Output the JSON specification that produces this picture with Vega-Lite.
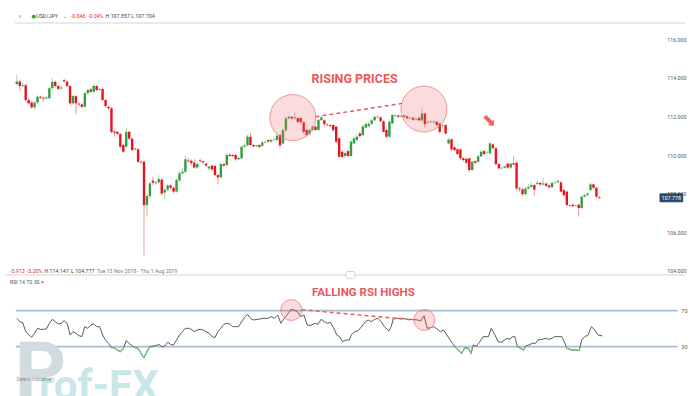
{
  "$schema": "https://vega.github.io/schema/vega-lite/v6.json",
  "width": 700,
  "height": 396,
  "padding": 0,
  "autosize": {"type": "none"},
  "background": "white",
  "config": {"view": {"stroke": null}, "font": "Roboto"},
  "datasets": {
    "candles": [
      {"i":0,"o":113.68,"h":114.15,"l":113.6,"c":113.81},
      {"i":1,"o":113.81,"h":113.9,"l":113.33,"c":113.58},
      {"i":2,"o":113.58,"h":113.75,"l":113.5,"c":113.62},
      {"i":3,"o":113.62,"h":113.7,"l":112.75,"c":112.85},
      {"i":4,"o":112.85,"h":112.95,"l":112.6,"c":112.68},
      {"i":5,"o":112.72,"h":112.8,"l":112.4,"c":112.47},
      {"i":6,"o":112.47,"h":112.8,"l":112.35,"c":112.72},
      {"i":7,"o":112.72,"h":113.1,"l":112.65,"c":113.02},
      {"i":8,"o":113.02,"h":113.08,"l":112.9,"c":112.97},
      {"i":9,"o":112.97,"h":113.0,"l":112.75,"c":112.92},
      {"i":10,"o":112.93,"h":113.05,"l":112.88,"c":112.98},
      {"i":11,"o":112.95,"h":113.55,"l":112.9,"c":113.46},
      {"i":12,"o":113.46,"h":113.98,"l":113.4,"c":113.8},
      {"i":13,"o":113.8,"h":113.85,"l":113.5,"c":113.58},
      {"i":14,"o":113.58,"h":113.62,"l":113.35,"c":113.43},
      {"i":15,"o":113.45,"h":113.6,"l":113.4,"c":113.5},
      {"i":16,"o":113.88,"h":113.95,"l":113.75,"c":113.82},
      {"i":17,"o":113.8,"h":113.85,"l":113.5,"c":113.58},
      {"i":18,"o":113.58,"h":113.62,"l":112.6,"c":112.68},
      {"i":19,"o":112.68,"h":113.12,"l":112.6,"c":113.05},
      {"i":20,"o":113.05,"h":113.1,"l":112.13,"c":112.68},
      {"i":21,"o":112.66,"h":112.72,"l":112.5,"c":112.62},
      {"i":22,"o":112.62,"h":112.68,"l":112.42,"c":112.5},
      {"i":23,"o":112.5,"h":113.28,"l":112.45,"c":113.2},
      {"i":24,"o":113.2,"h":113.45,"l":113.12,"c":113.37},
      {"i":25,"o":113.4,"h":113.48,"l":113.2,"c":113.28},
      {"i":26,"o":113.28,"h":113.68,"l":113.22,"c":113.58},
      {"i":27,"o":113.58,"h":113.62,"l":113.3,"c":113.37},
      {"i":28,"o":113.38,"h":113.5,"l":113.3,"c":113.42},
      {"i":29,"o":113.42,"h":113.48,"l":112.8,"c":112.85},
      {"i":30,"o":112.85,"h":112.9,"l":112.45,"c":112.54},
      {"i":31,"o":112.5,"h":112.55,"l":112.35,"c":112.42},
      {"i":32,"o":112.42,"h":112.48,"l":111.1,"c":111.2},
      {"i":33,"o":111.22,"h":111.3,"l":110.95,"c":111.15},
      {"i":34,"o":111.2,"h":111.25,"l":111.0,"c":111.09},
      {"i":35,"o":111.09,"h":111.15,"l":110.35,"c":110.43},
      {"i":36,"o":110.52,"h":110.6,"l":110.1,"c":110.17},
      {"i":37,"o":110.43,"h":111.4,"l":110.35,"c":111.2},
      {"i":38,"o":111.2,"h":111.25,"l":110.78,"c":110.85},
      {"i":39,"o":110.85,"h":110.9,"l":110.2,"c":110.26},
      {"i":40,"o":110.33,"h":110.38,"l":110.22,"c":110.3},
      {"i":41,"o":110.3,"h":110.35,"l":109.6,"c":109.65},
      {"i":42,"o":109.66,"h":109.7,"l":109.55,"c":109.62},
      {"i":43,"o":109.65,"h":109.7,"l":104.78,"c":107.4},
      {"i":44,"o":107.4,"h":108.0,"l":106.8,"c":107.87},
      {"i":45,"o":107.87,"h":108.6,"l":107.75,"c":108.53},
      {"i":46,"o":108.67,"h":108.85,"l":108.45,"c":108.56},
      {"i":47,"o":108.57,"h":108.65,"l":108.45,"c":108.54},
      {"i":48,"o":108.58,"h":108.95,"l":108.5,"c":108.75},
      {"i":49,"o":108.72,"h":108.8,"l":107.9,"c":108.0},
      {"i":50,"o":108.05,"h":108.28,"l":107.7,"c":108.2},
      {"i":51,"o":108.2,"h":108.5,"l":108.1,"c":108.42},
      {"i":52,"o":108.42,"h":108.5,"l":108.2,"c":108.3},
      {"i":53,"o":108.3,"h":108.38,"l":108.0,"c":108.1},
      {"i":54,"o":108.1,"h":108.78,"l":108.05,"c":108.7},
      {"i":55,"o":108.68,"h":109.15,"l":108.6,"c":109.05},
      {"i":56,"o":109.05,"h":109.3,"l":108.98,"c":109.13},
      {"i":57,"o":109.13,"h":109.95,"l":109.05,"c":109.78},
      {"i":58,"o":109.72,"h":109.85,"l":109.6,"c":109.68},
      {"i":59,"o":109.7,"h":109.78,"l":109.45,"c":109.58},
      {"i":60,"o":109.6,"h":109.78,"l":109.3,"c":109.35},
      {"i":61,"o":109.35,"h":109.6,"l":109.28,"c":109.53},
      {"i":62,"o":109.72,"h":109.8,"l":109.6,"c":109.68},
      {"i":63,"o":109.68,"h":109.7,"l":109.5,"c":109.62},
      {"i":64,"o":109.55,"h":109.6,"l":109.38,"c":109.45},
      {"i":65,"o":109.3,"h":109.45,"l":109.22,"c":109.4},
      {"i":66,"o":109.45,"h":109.5,"l":109.18,"c":109.25},
      {"i":67,"o":109.43,"h":109.48,"l":108.9,"c":108.96},
      {"i":68,"o":108.96,"h":109.0,"l":108.5,"c":108.84},
      {"i":69,"o":108.84,"h":109.6,"l":108.78,"c":109.53},
      {"i":70,"o":109.53,"h":109.58,"l":109.38,"c":109.45},
      {"i":71,"o":109.48,"h":110.1,"l":109.42,"c":110.0},
      {"i":72,"o":110.02,"h":110.08,"l":109.9,"c":109.95},
      {"i":73,"o":110.0,"h":110.05,"l":109.88,"c":109.95},
      {"i":74,"o":110.0,"h":110.05,"l":109.7,"c":109.78},
      {"i":75,"o":109.78,"h":109.92,"l":109.72,"c":109.85},
      {"i":76,"o":109.83,"h":110.5,"l":109.78,"c":110.43},
      {"i":77,"o":110.43,"h":110.6,"l":110.38,"c":110.5},
      {"i":78,"o":110.5,"h":111.05,"l":110.45,"c":110.95},
      {"i":79,"o":110.95,"h":111.15,"l":110.45,"c":110.52},
      {"i":80,"o":110.52,"h":110.58,"l":110.38,"c":110.45},
      {"i":81,"o":110.45,"h":110.55,"l":110.4,"c":110.5},
      {"i":82,"o":110.52,"h":110.56,"l":110.35,"c":110.42},
      {"i":83,"o":110.48,"h":110.72,"l":110.42,"c":110.65},
      {"i":84,"o":110.65,"h":110.75,"l":110.6,"c":110.68},
      {"i":85,"o":110.78,"h":110.82,"l":110.62,"c":110.7},
      {"i":86,"o":110.7,"h":110.85,"l":110.65,"c":110.78},
      {"i":87,"o":110.78,"h":110.88,"l":110.72,"c":110.8},
      {"i":88,"o":110.78,"h":111.12,"l":110.7,"c":111.0},
      {"i":89,"o":111.03,"h":111.08,"l":110.35,"c":110.5},
      {"i":90,"o":110.6,"h":111.38,"l":110.55,"c":111.29},
      {"i":91,"o":111.29,"h":112.0,"l":111.2,"c":111.9},
      {"i":92,"o":111.9,"h":112.05,"l":111.85,"c":111.98},
      {"i":93,"o":111.98,"h":112.02,"l":111.82,"c":111.9},
      {"i":94,"o":111.9,"h":112.2,"l":111.85,"c":111.95},
      {"i":95,"o":111.92,"h":111.95,"l":111.65,"c":111.72},
      {"i":96,"o":111.92,"h":111.98,"l":111.62,"c":111.7},
      {"i":97,"o":111.7,"h":111.75,"l":111.1,"c":111.2},
      {"i":98,"o":111.3,"h":111.35,"l":110.95,"c":111.03},
      {"i":99,"o":111.1,"h":111.38,"l":111.0,"c":111.3},
      {"i":100,"o":111.3,"h":111.55,"l":111.22,"c":111.47},
      {"i":101,"o":111.47,"h":111.52,"l":111.25,"c":111.3},
      {"i":102,"o":111.3,"h":111.88,"l":111.25,"c":111.81},
      {"i":103,"o":111.81,"h":112.02,"l":111.75,"c":111.95},
      {"i":104,"o":111.8,"h":111.85,"l":111.5,"c":111.6},
      {"i":105,"o":111.58,"h":111.65,"l":111.48,"c":111.55},
      {"i":106,"o":111.55,"h":111.6,"l":111.42,"c":111.5},
      {"i":107,"o":111.55,"h":111.6,"l":111.2,"c":111.29},
      {"i":108,"o":111.47,"h":111.5,"l":110.6,"c":110.69},
      {"i":109,"o":110.87,"h":110.9,"l":109.85,"c":109.91},
      {"i":110,"o":110.17,"h":110.25,"l":109.82,"c":109.9},
      {"i":111,"o":109.95,"h":110.2,"l":109.85,"c":110.1},
      {"i":112,"o":110.2,"h":110.28,"l":109.88,"c":109.95},
      {"i":113,"o":109.95,"h":110.75,"l":109.9,"c":110.69},
      {"i":114,"o":110.6,"h":110.95,"l":110.55,"c":110.86},
      {"i":115,"o":110.78,"h":111.05,"l":110.7,"c":110.95},
      {"i":116,"o":111.12,"h":111.18,"l":110.9,"c":110.98},
      {"i":117,"o":111.03,"h":111.55,"l":110.98,"c":111.47},
      {"i":118,"o":111.42,"h":111.68,"l":111.38,"c":111.6},
      {"i":119,"o":111.5,"h":111.7,"l":111.45,"c":111.62},
      {"i":120,"o":111.62,"h":111.88,"l":111.55,"c":111.8},
      {"i":121,"o":111.8,"h":112.02,"l":111.75,"c":111.98},
      {"i":122,"o":111.98,"h":112.05,"l":111.9,"c":111.96},
      {"i":123,"o":111.95,"h":112.0,"l":111.7,"c":111.75},
      {"i":124,"o":111.75,"h":111.8,"l":111.15,"c":111.2},
      {"i":125,"o":111.29,"h":111.35,"l":110.88,"c":110.95},
      {"i":126,"o":110.95,"h":111.8,"l":110.9,"c":111.72},
      {"i":127,"o":111.64,"h":112.15,"l":111.6,"c":112.07},
      {"i":128,"o":112.03,"h":112.12,"l":111.98,"c":112.06},
      {"i":129,"o":112.05,"h":112.1,"l":111.92,"c":111.98},
      {"i":130,"o":111.99,"h":112.08,"l":111.95,"c":112.03},
      {"i":131,"o":112.05,"h":112.08,"l":111.92,"c":111.98},
      {"i":132,"o":112.0,"h":112.05,"l":111.85,"c":111.9},
      {"i":133,"o":111.9,"h":111.98,"l":111.85,"c":111.93},
      {"i":134,"o":111.93,"h":111.98,"l":111.78,"c":111.83},
      {"i":135,"o":111.84,"h":111.92,"l":111.8,"c":111.87},
      {"i":136,"o":111.93,"h":111.98,"l":111.75,"c":111.8},
      {"i":137,"o":111.8,"h":112.42,"l":111.72,"c":112.15},
      {"i":138,"o":112.15,"h":112.2,"l":111.45,"c":111.6},
      {"i":139,"o":111.72,"h":111.78,"l":111.62,"c":111.7},
      {"i":140,"o":111.7,"h":111.8,"l":111.65,"c":111.73},
      {"i":141,"o":111.7,"h":111.78,"l":111.62,"c":111.74},
      {"i":142,"o":111.72,"h":111.78,"l":111.48,"c":111.55},
      {"i":143,"o":111.64,"h":111.68,"l":111.1,"c":111.2},
      {"i":144,"o":111.5,"h":111.6,"l":111.42,"c":111.53},
      {"i":145,"o":111.55,"h":111.6,"l":111.05,"c":111.12},
      {"i":146,"o":110.6,"h":110.88,"l":110.55,"c":110.8},
      {"i":147,"o":110.81,"h":110.85,"l":110.2,"c":110.29},
      {"i":148,"o":110.4,"h":110.45,"l":110.18,"c":110.25},
      {"i":149,"o":110.3,"h":110.35,"l":109.98,"c":110.05},
      {"i":150,"o":110.29,"h":110.32,"l":109.75,"c":109.83},
      {"i":151,"o":109.83,"h":109.88,"l":109.65,"c":109.74},
      {"i":152,"o":109.8,"h":109.85,"l":109.55,"c":109.6},
      {"i":153,"o":109.83,"h":109.86,"l":109.1,"c":109.22},
      {"i":154,"o":109.22,"h":109.7,"l":109.18,"c":109.65},
      {"i":155,"o":109.68,"h":109.72,"l":109.52,"c":109.6},
      {"i":156,"o":109.65,"h":110.0,"l":109.6,"c":109.93},
      {"i":157,"o":109.93,"h":110.25,"l":109.88,"c":110.17},
      {"i":158,"o":110.2,"h":110.25,"l":109.98,"c":110.05},
      {"i":159,"o":110.1,"h":110.2,"l":110.02,"c":110.12},
      {"i":160,"o":110.09,"h":110.68,"l":110.02,"c":110.6},
      {"i":161,"o":110.55,"h":110.6,"l":110.28,"c":110.35},
      {"i":162,"o":110.35,"h":110.4,"l":109.45,"c":109.53},
      {"i":163,"o":109.53,"h":109.58,"l":109.25,"c":109.31},
      {"i":164,"o":109.31,"h":109.4,"l":109.25,"c":109.34},
      {"i":165,"o":109.34,"h":109.46,"l":109.28,"c":109.4},
      {"i":166,"o":109.55,"h":109.6,"l":109.28,"c":109.35},
      {"i":167,"o":109.35,"h":109.6,"l":109.3,"c":109.55},
      {"i":168,"o":109.57,"h":109.95,"l":109.45,"c":109.5},
      {"i":169,"o":109.6,"h":109.65,"l":108.2,"c":108.27},
      {"i":170,"o":108.27,"h":108.35,"l":108.1,"c":108.22},
      {"i":171,"o":108.22,"h":108.28,"l":107.88,"c":107.97},
      {"i":172,"o":107.97,"h":108.35,"l":107.9,"c":108.27},
      {"i":173,"o":108.27,"h":108.48,"l":108.2,"c":108.35},
      {"i":174,"o":108.35,"h":108.6,"l":108.3,"c":108.44},
      {"i":175,"o":108.44,"h":108.5,"l":107.9,"c":108.2},
      {"i":176,"o":108.5,"h":108.65,"l":108.42,"c":108.56},
      {"i":177,"o":108.55,"h":108.6,"l":108.4,"c":108.47},
      {"i":178,"o":108.47,"h":108.8,"l":108.42,"c":108.52},
      {"i":179,"o":108.52,"h":108.58,"l":108.35,"c":108.4},
      {"i":180,"o":108.42,"h":108.48,"l":108.25,"c":108.33},
      {"i":181,"o":108.33,"h":108.62,"l":108.28,"c":108.55},
      {"i":182,"o":108.55,"h":108.65,"l":108.5,"c":108.57},
      {"i":183,"o":108.6,"h":108.75,"l":108.55,"c":108.65},
      {"i":184,"o":108.58,"h":108.62,"l":108.05,"c":108.1},
      {"i":185,"o":108.18,"h":108.22,"l":107.85,"c":107.92},
      {"i":186,"o":108.1,"h":108.15,"l":107.35,"c":107.41},
      {"i":187,"o":107.4,"h":107.45,"l":107.3,"c":107.38},
      {"i":188,"o":107.42,"h":107.48,"l":107.28,"c":107.35},
      {"i":189,"o":107.36,"h":107.45,"l":107.3,"c":107.38},
      {"i":190,"o":107.42,"h":107.48,"l":106.8,"c":107.25},
      {"i":191,"o":107.25,"h":107.9,"l":107.2,"c":107.84},
      {"i":192,"o":107.84,"h":108.0,"l":107.8,"c":107.92},
      {"i":193,"o":107.92,"h":108.08,"l":107.88,"c":108.0},
      {"i":194,"o":108.18,"h":108.55,"l":108.12,"c":108.48},
      {"i":195,"o":108.48,"h":108.52,"l":108.22,"c":108.3},
      {"i":196,"o":108.3,"h":108.35,"l":107.75,"c":107.84},
      {"i":197,"o":107.82,"h":107.86,"l":107.7,"c":107.78}
    ],
    "rsi": [
      {"i":0,"r":61.5},{"i":1,"r":57.8},{"i":2,"r":56.7},{"i":3,"r":46.7},{"i":4,"r":43.7},{"i":5,"r":40.4},{"i":6,"r":44.9},{"i":7,"r":50.4},{"i":8,"r":49.3},{"i":9,"r":49.3},
      {"i":10,"r":49.7},{"i":11,"r":56},{"i":12,"r":60.4},{"i":13,"r":57.8},{"i":14,"r":55.2},{"i":15,"r":56},{"i":16,"r":58.9},{"i":17,"r":56},{"i":18,"r":43},{"i":19,"r":46.7},
      {"i":20,"r":44.9},{"i":21,"r":42.3},{"i":22,"r":41.2},{"i":23,"r":52.3},{"i":24,"r":50.4},{"i":25,"r":54.1},{"i":26,"r":55.2},{"i":27,"r":52.3},{"i":28,"r":52.3},{"i":29,"r":43},
      {"i":30,"r":37.4},{"i":31,"r":33.7},{"i":32,"r":28.9},{"i":33,"r":28.9},{"i":34,"r":26.3},{"i":35,"r":24.5},{"i":36,"r":28.2},{"i":37,"r":36.7},{"i":38,"r":33.7},{"i":39,"r":30.8},
      {"i":40,"r":28.9},{"i":41,"r":28.2},{"i":42,"r":22.6},{"i":43,"r":17.8},{"i":44,"r":24.5},{"i":45,"r":30},{"i":46,"r":30.8},{"i":47,"r":31.2},{"i":48,"r":32.6},{"i":49,"r":30},
      {"i":50,"r":30.8},{"i":51,"r":34.9},{"i":52,"r":32.6},{"i":53,"r":31.9},{"i":54,"r":37.4},{"i":55,"r":43},{"i":57,"r":50.4},{"i":58,"r":50.4},{"i":59,"r":49.3},
      {"i":60,"r":46.7},{"i":61,"r":48.6},{"i":62,"r":49.3},{"i":63,"r":48.6},{"i":64,"r":46.7},{"i":65,"r":44.9},{"i":66,"r":41.2},{"i":67,"r":40.1},{"i":68,"r":46.7},{"i":69,"r":50.4},
      {"i":70,"r":54.9},{"i":71,"r":56},{"i":72,"r":55.2},{"i":73,"r":52.3},{"i":74,"r":52.3},{"i":75,"r":52.3},{"i":76,"r":57.8},{"i":77,"r":62.6},{"i":78,"r":66},{"i":79,"r":61.5},
      {"i":80,"r":59.7},{"i":81.6,"r":60.4},{"i":83.2,"r":61.5},{"i":84.9,"r":61.5},{"i":86,"r":63.4},{"i":87.1,"r":61.5},{"i":88.2,"r":65.2},{"i":89.3,"r":56},{"i":90.4,"r":61.5},
      {"i":91.8,"r":67.1},{"i":92.7,"r":71.5},{"i":93.8,"r":70.8},{"i":94.9,"r":68.9},{"i":96,"r":63.4},{"i":97.1,"r":65.2},{"i":98.2,"r":54.1},{"i":99.3,"r":53.4},{"i":100.7,"r":56},
      {"i":101.8,"r":54.9},{"i":102.9,"r":60.4},{"i":104,"r":57.8},{"i":105.1,"r":56},{"i":106,"r":57},{"i":107.1,"r":51.2},{"i":108.2,"r":43},{"i":109.1,"r":41.2},{"i":110.2,"r":35.6},
      {"i":111.3,"r":37.4},{"i":112.4,"r":37.4},{"i":113.2,"r":43.7},{"i":114.3,"r":46.7},{"i":115.4,"r":47.8},{"i":116.6,"r":52.3},{"i":117.7,"r":57.1},{"i":118.8,"r":59.7},
      {"i":119.9,"r":57.8},{"i":121,"r":60.4},{"i":122.1,"r":61.5},{"i":123.2,"r":57.8},{"i":124.3,"r":52.3},{"i":125.8,"r":47.5},{"i":126.6,"r":52.3},{"i":127.3,"r":60.8},
      {"i":128.8,"r":61.5},{"i":130.4,"r":61.5},{"i":132.1,"r":60.4},{"i":133.8,"r":60.4},{"i":135.4,"r":59.7},{"i":136.6,"r":58.6},{"i":137.7,"r":64.5},{"i":138.8,"r":50.4},
      {"i":139.9,"r":51.2},{"i":141,"r":52.3},{"i":142.1,"r":49.7},{"i":143.2,"r":46.7},{"i":144.3,"r":48.6},{"i":145.4,"r":43},{"i":146.6,"r":37.4},{"i":147.3,"r":33.7},
      {"i":148.4,"r":28.9},{"i":149.3,"r":26.3},{"i":150.4,"r":22.6},{"i":151.5,"r":28.9},{"i":152.7,"r":28.2},{"i":153.6,"r":22.6},{"i":154.3,"r":31.9},{"i":155.4,"r":30.8},
      {"i":156.6,"r":35.6},{"i":157.7,"r":41.2},{"i":158.8,"r":41.2},{"i":159.5,"r":41.2},{"i":160.4,"r":50.4},{"i":161.6,"r":43.7},{"i":162.7,"r":35.6},{"i":163.8,"r":34.9},
      {"i":164.9,"r":37.4},{"i":165.8,"r":39.3},{"i":166.6,"r":38.2},{"i":167.7,"r":41.2},{"i":168.4,"r":41.2},{"i":169.3,"r":30},{"i":170.4,"r":28.2},{"i":171.3,"r":26.3},
      {"i":172.1,"r":30.8},{"i":173.2,"r":31.9},{"i":174.3,"r":33.7},{"i":175.4,"r":33.7},{"i":176.2,"r":37.4},{"i":177.7,"r":38.2},{"i":178.8,"r":39.3},{"i":179.9,"r":38.2},
      {"i":181,"r":39.3},{"i":181.8,"r":41.2},{"i":183.2,"r":41.2},{"i":184.3,"r":41.2},{"i":185.1,"r":35.6},{"i":186,"r":28.2},{"i":187.7,"r":26.3},{"i":189.3,"r":26.3},
      {"i":190.2,"r":25.6},{"i":191,"r":37.4},{"i":192.1,"r":41.2},{"i":193.2,"r":43},{"i":194.3,"r":52.3},{"i":195.4,"r":48.6},{"i":196.6,"r":43},{"i":198,"r":41.9}
    ],
    "rsig": [
      {"s":"A","i":31.5,"r":30},{"s":"A","i":32,"r":28.9},{"s":"A","i":33,"r":28.9},{"s":"A","i":34,"r":26.3},{"s":"A","i":35,"r":24.5},{"s":"A","i":36,"r":28.2},{"s":"A","i":36.2,"r":30},
      {"s":"B","i":39.4,"r":30},{"s":"B","i":40,"r":28.9},{"s":"B","i":41,"r":28.2},{"s":"B","i":42,"r":22.6},{"s":"B","i":43,"r":17.8},{"s":"B","i":44,"r":24.5},{"s":"B","i":45,"r":30},
      {"s":"C","i":148.1,"r":30},{"s":"C","i":148.4,"r":28.9},{"s":"C","i":149.3,"r":26.3},{"s":"C","i":150.4,"r":22.6},{"s":"C","i":151.5,"r":28.9},{"s":"C","i":152.7,"r":28.2},{"s":"C","i":153.6,"r":22.6},{"s":"C","i":154.1,"r":30},
      {"s":"D","i":169.3,"r":30},{"s":"D","i":170.4,"r":28.2},{"s":"D","i":171.3,"r":26.3},{"s":"D","i":171.9,"r":30},
      {"s":"E","i":185.6,"r":30},{"s":"E","i":186,"r":28.2},{"s":"E","i":187.7,"r":26.3},{"s":"E","i":189.3,"r":26.3},{"s":"E","i":190.2,"r":25.6},{"s":"E","i":190.5,"r":30}
    ]
  },
  "encoding": {
    "x": {"field": "i", "type": "quantitative", "scale": {"domain": [-4, 229.333], "nice": false, "zero": false}, "axis": null}
  },
  "layer": [
    {
      "data": {"name": "candles"},
      "mark": {"type": "rule", "strokeWidth": 1, "opacity": 0.45},
      "encoding": {
        "y": {"field": "h", "type": "quantitative", "scale": {"domain": [97.504, 118.037], "nice": false, "zero": false},
          "axis": {"orient": "right", "values": [104, 106, 108, 110, 112, 114, 116], "format": ".3f", "title": null, "domain": false, "ticks": false, "grid": false, "offset": -14, "labelAlign": "right", "labelPadding": 0, "labelFontSize": 5.3, "labelColor": "#555555"}},
        "y2": {"field": "l"},
        "color": {"condition": {"test": "datum.c >= datum.o", "value": "#2E9F3E"}, "value": "#E3141B"}
      }
    },
    {
      "data": {"name": "candles"},
      "mark": {"type": "bar", "size": 2.4},
      "encoding": {
        "y": {"field": "o", "type": "quantitative", "scale": {"domain": [97.504, 118.037], "nice": false, "zero": false}, "axis": null},
        "y2": {"field": "c"},
        "color": {"condition": {"test": "datum.c >= datum.o", "value": "#2E9F3E"}, "value": "#E3141B"}
      }
    },
    {
      "data": {"values": [{"i": -4, "i2": 226, "p": 103.778}, {"i": -0.67, "i2": 226, "p": 116.844}]},
      "mark": {"type": "rule", "color": "#E2E2E2", "strokeWidth": 1.5},
      "encoding": {"x2": {"field": "i2"}, "y": {"field": "p", "type": "quantitative", "scale": {"domain": [97.504, 118.037], "nice": false, "zero": false}, "axis": null}}
    },
    {
      "data": {"values": [{"i": 111.3, "i2": 114.3, "p": 103.96, "p2": 103.6}]},
      "mark": {"type": "rect", "fill": "white", "stroke": "#C8C8C8", "strokeWidth": 0.8, "cornerRadius": 1.5},
      "encoding": {"x2": {"field": "i2"}, "y": {"field": "p", "type": "quantitative", "scale": {"domain": [97.504, 118.037], "nice": false, "zero": false}, "axis": null}, "y2": {"field": "p2"}}
    },
    {
      "data": {"values": [{"i": 93.33, "p": 111.942}, {"i": 137.67, "p": 112.383}]},
      "mark": {"type": "point", "shape": "circle", "filled": true, "size": 2116, "fill": "#F07070", "fillOpacity": 0.25, "stroke": "#EE8080", "strokeWidth": 1, "strokeOpacity": 0.8},
      "encoding": {"y": {"field": "p", "type": "quantitative", "scale": {"domain": [97.504, 118.037], "nice": false, "zero": false}, "axis": null}}
    },
    {
      "data": {"values": [{"i": 101, "p": 111.983}, {"i": 130.33, "p": 112.677}]},
      "mark": {"type": "line", "color": "#EB5A5E", "strokeWidth": 1.5, "strokeDash": [4, 3]},
      "encoding": {"y": {"field": "p", "type": "quantitative", "scale": {"domain": [97.504, 118.037], "nice": false, "zero": false}, "axis": null}}
    },
    {
      "data": {"values": [{"i": 159.67, "p": 111.76, "t": "➡"}]},
      "mark": {"type": "text", "angle": 45, "fontSize": 17, "color": "#EE6666", "align": "center", "baseline": "middle", "font": "DejaVu Sans"},
      "encoding": {"y": {"field": "p", "type": "quantitative", "scale": {"domain": [97.504, 118.037], "nice": false, "zero": false}, "axis": null}, "text": {"field": "t"}}
    },
    {
      "data": {"values": [{"i": 114.23, "p": 113.953, "t": "RISING PRICES"}]},
      "mark": {"type": "text", "fontSize": 12.5, "fontWeight": "bold", "color": "#E8585C", "align": "center", "baseline": "middle", "font": "Roboto"},
      "encoding": {"y": {"field": "p", "type": "quantitative", "scale": {"domain": [97.504, 118.037], "nice": false, "zero": false}, "axis": null}, "text": {"field": "t"}}
    },
    {
      "data": {"values": [
        {"i": 0.67, "p": 117.207, "t": "≡"},
        {"i": 6.57, "p": 117.207, "t": "USD/JPY"},
        {"i": 15.67, "p": 117.207, "t": "⌄"},
        {"i": 30, "p": 117.207, "t": "H 107.857 L 107.704"},
        {"i": 9.33, "p": 104.0, "t": "H 114.147"},
        {"i": 18.33, "p": 104.0, "t": "L 104.777"}
      ]},
      "mark": {"type": "text", "fontSize": 5.3, "color": "#444444", "align": "left", "baseline": "middle", "font": "Roboto"},
      "encoding": {"y": {"field": "p", "type": "quantitative", "scale": {"domain": [97.504, 118.037], "nice": false, "zero": false}, "axis": null}, "text": {"field": "t"}}
    },
    {
      "data": {"values": [{"i": 27, "p": 104.0, "t": "Tue 13 Nov 2018 - Thu 1 Aug 2019"}]},
      "mark": {"type": "text", "fontSize": 5.3, "color": "#777777", "align": "left", "baseline": "middle", "font": "Roboto"},
      "encoding": {"y": {"field": "p", "type": "quantitative", "scale": {"domain": [97.504, 118.037], "nice": false, "zero": false}, "axis": null}, "text": {"field": "t"}}
    },
    {
      "data": {"values": [
        {"i": 18.23, "p": 117.207, "t": "-0.046"},
        {"i": 24, "p": 117.207, "t": "-0.04%"},
        {"i": -2.33, "p": 104.0, "t": "-5.913"},
        {"i": 3.33, "p": 104.0, "t": "-5.20%"}
      ]},
      "mark": {"type": "text", "fontSize": 5.3, "color": "#E0242B", "align": "left", "baseline": "middle", "font": "Roboto"},
      "encoding": {"y": {"field": "p", "type": "quantitative", "scale": {"domain": [97.504, 118.037], "nice": false, "zero": false}, "axis": null}, "text": {"field": "t"}}
    },
    {
      "data": {"values": [{"i": 5, "p": 117.207, "t": "●"}]},
      "mark": {"type": "text", "fontSize": 5, "color": "#2E9F3E", "align": "left", "baseline": "middle", "font": "DejaVu Sans"},
      "encoding": {"y": {"field": "p", "type": "quantitative", "scale": {"domain": [97.504, 118.037], "nice": false, "zero": false}, "axis": null}, "text": {"field": "t"}}
    },
    {
      "data": {"values": [{"i": 217.33, "i2": 225.33, "p": 107.545, "p2": 108.011}]},
      "mark": {"type": "rect", "color": "#2E4A6B", "cornerRadius": 1},
      "encoding": {"x2": {"field": "i2"}, "y": {"field": "p", "type": "quantitative", "scale": {"domain": [97.504, 118.037], "nice": false, "zero": false}, "axis": null}, "y2": {"field": "p2"}}
    },
    {
      "data": {"values": [{"i": 221.33, "p": 107.778, "t": "107.778"}]},
      "mark": {"type": "text", "fontSize": 5.3, "color": "white", "align": "center", "baseline": "middle", "font": "Roboto"},
      "encoding": {"y": {"field": "p", "type": "quantitative", "scale": {"domain": [97.504, 118.037], "nice": false, "zero": false}, "axis": null}, "text": {"field": "t"}}
    },
    {
      "data": {"values": [{"i": -0.33, "i2": 223.5, "r": 70}, {"i": -0.33, "i2": 223.5, "r": 30}]},
      "mark": {"type": "rule", "color": "#A9BDD3", "strokeWidth": 1.8},
      "encoding": {"x2": {"field": "i2"},
        "y": {"field": "r", "type": "quantitative", "scale": {"domain": [-24.78, 415.22], "nice": false, "zero": false},
          "axis": {"orient": "right", "values": [30, 70], "format": "d", "title": null, "domain": false, "ticks": false, "grid": false, "offset": -13, "labelAlign": "right", "labelPadding": 0, "labelFontSize": 5.5, "labelColor": "#555555"}}}
    },
    {
      "data": {"values": [{"i": -0.67, "r": -27.0, "t": "P"}]},
      "mark": {"type": "text", "fontSize": 80, "fontWeight": "bold", "color": "#D0DCDF", "align": "left", "baseline": "alphabetic", "font": "Roboto"},
      "encoding": {"y": {"field": "r", "type": "quantitative", "scale": {"domain": [-24.78, 415.22], "nice": false, "zero": false}, "axis": null}, "text": {"field": "t"}}
    },
    {
      "data": {"values": [{"i": 7.5, "r": -29.0, "t": "rof-FX"}]},
      "mark": {"type": "text", "fontSize": 42, "fontWeight": "bold", "color": "#C9E6E8", "align": "left", "baseline": "alphabetic", "font": "Roboto"},
      "encoding": {"y": {"field": "r", "type": "quantitative", "scale": {"domain": [-24.78, 415.22], "nice": false, "zero": false}, "axis": null}, "text": {"field": "t"}}
    },
    {
      "data": {"values": [{"i": 0, "r": -7.0, "t": "Data is indicative"}]},
      "mark": {"type": "text", "fontSize": 4.5, "color": "#888888", "align": "left", "baseline": "middle", "font": "Roboto"},
      "encoding": {"y": {"field": "r", "type": "quantitative", "scale": {"domain": [-24.78, 415.22], "nice": false, "zero": false}, "axis": null}, "text": {"field": "t"}}
    },
    {
      "data": {"name": "rsi"},
      "mark": {"type": "line", "color": "#5A5A5A", "strokeWidth": 1},
      "encoding": {"y": {"field": "r", "type": "quantitative", "scale": {"domain": [-24.78, 415.22], "nice": false, "zero": false}, "axis": null}}
    },
    {
      "data": {"name": "rsig"},
      "mark": {"type": "line", "color": "#6CC06C", "strokeWidth": 1.2},
      "encoding": {"y": {"field": "r", "type": "quantitative", "scale": {"domain": [-24.78, 415.22], "nice": false, "zero": false}, "axis": null}, "detail": {"field": "s"}}
    },
    {
      "data": {"values": [{"i": 92.83, "r": 70.78}, {"i": 137.83, "r": 59.67}]},
      "mark": {"type": "point", "shape": "circle", "filled": true, "size": 441, "fill": "#F07070", "fillOpacity": 0.25, "stroke": "#EE8080", "strokeWidth": 1, "strokeOpacity": 0.8},
      "encoding": {"y": {"field": "r", "type": "quantitative", "scale": {"domain": [-24.78, 415.22], "nice": false, "zero": false}, "axis": null}}
    },
    {
      "data": {"values": [{"i": 96.33, "r": 71.1}, {"i": 134.33, "r": 59.67}]},
      "mark": {"type": "line", "color": "#EB5A5E", "strokeWidth": 1.5, "strokeDash": [4, 3]},
      "encoding": {"y": {"field": "r", "type": "quantitative", "scale": {"domain": [-24.78, 415.22], "nice": false, "zero": false}, "axis": null}}
    },
    {
      "data": {"values": [{"i": 117.17, "r": 89.33, "t": "FALLING RSI HIGHS"}]},
      "mark": {"type": "text", "fontSize": 11.5, "fontWeight": "bold", "color": "#E8585C", "align": "center", "baseline": "middle", "font": "Roboto"},
      "encoding": {"y": {"field": "r", "type": "quantitative", "scale": {"domain": [-24.78, 415.22], "nice": false, "zero": false}, "axis": null}, "text": {"field": "t"}}
    },
    {
      "data": {"values": [{"i": -2.33, "r": 101.6, "t": "RSI  14  70  30  ×"}]},
      "mark": {"type": "text", "fontSize": 5.3, "color": "#555555", "align": "left", "baseline": "middle", "font": "Roboto"},
      "encoding": {"y": {"field": "r", "type": "quantitative", "scale": {"domain": [-24.78, 415.22], "nice": false, "zero": false}, "axis": null}, "text": {"field": "t"}}
    }
  ],
  "resolve": {"scale": {"y": "independent"}, "axis": {"y": "independent"}}
}
